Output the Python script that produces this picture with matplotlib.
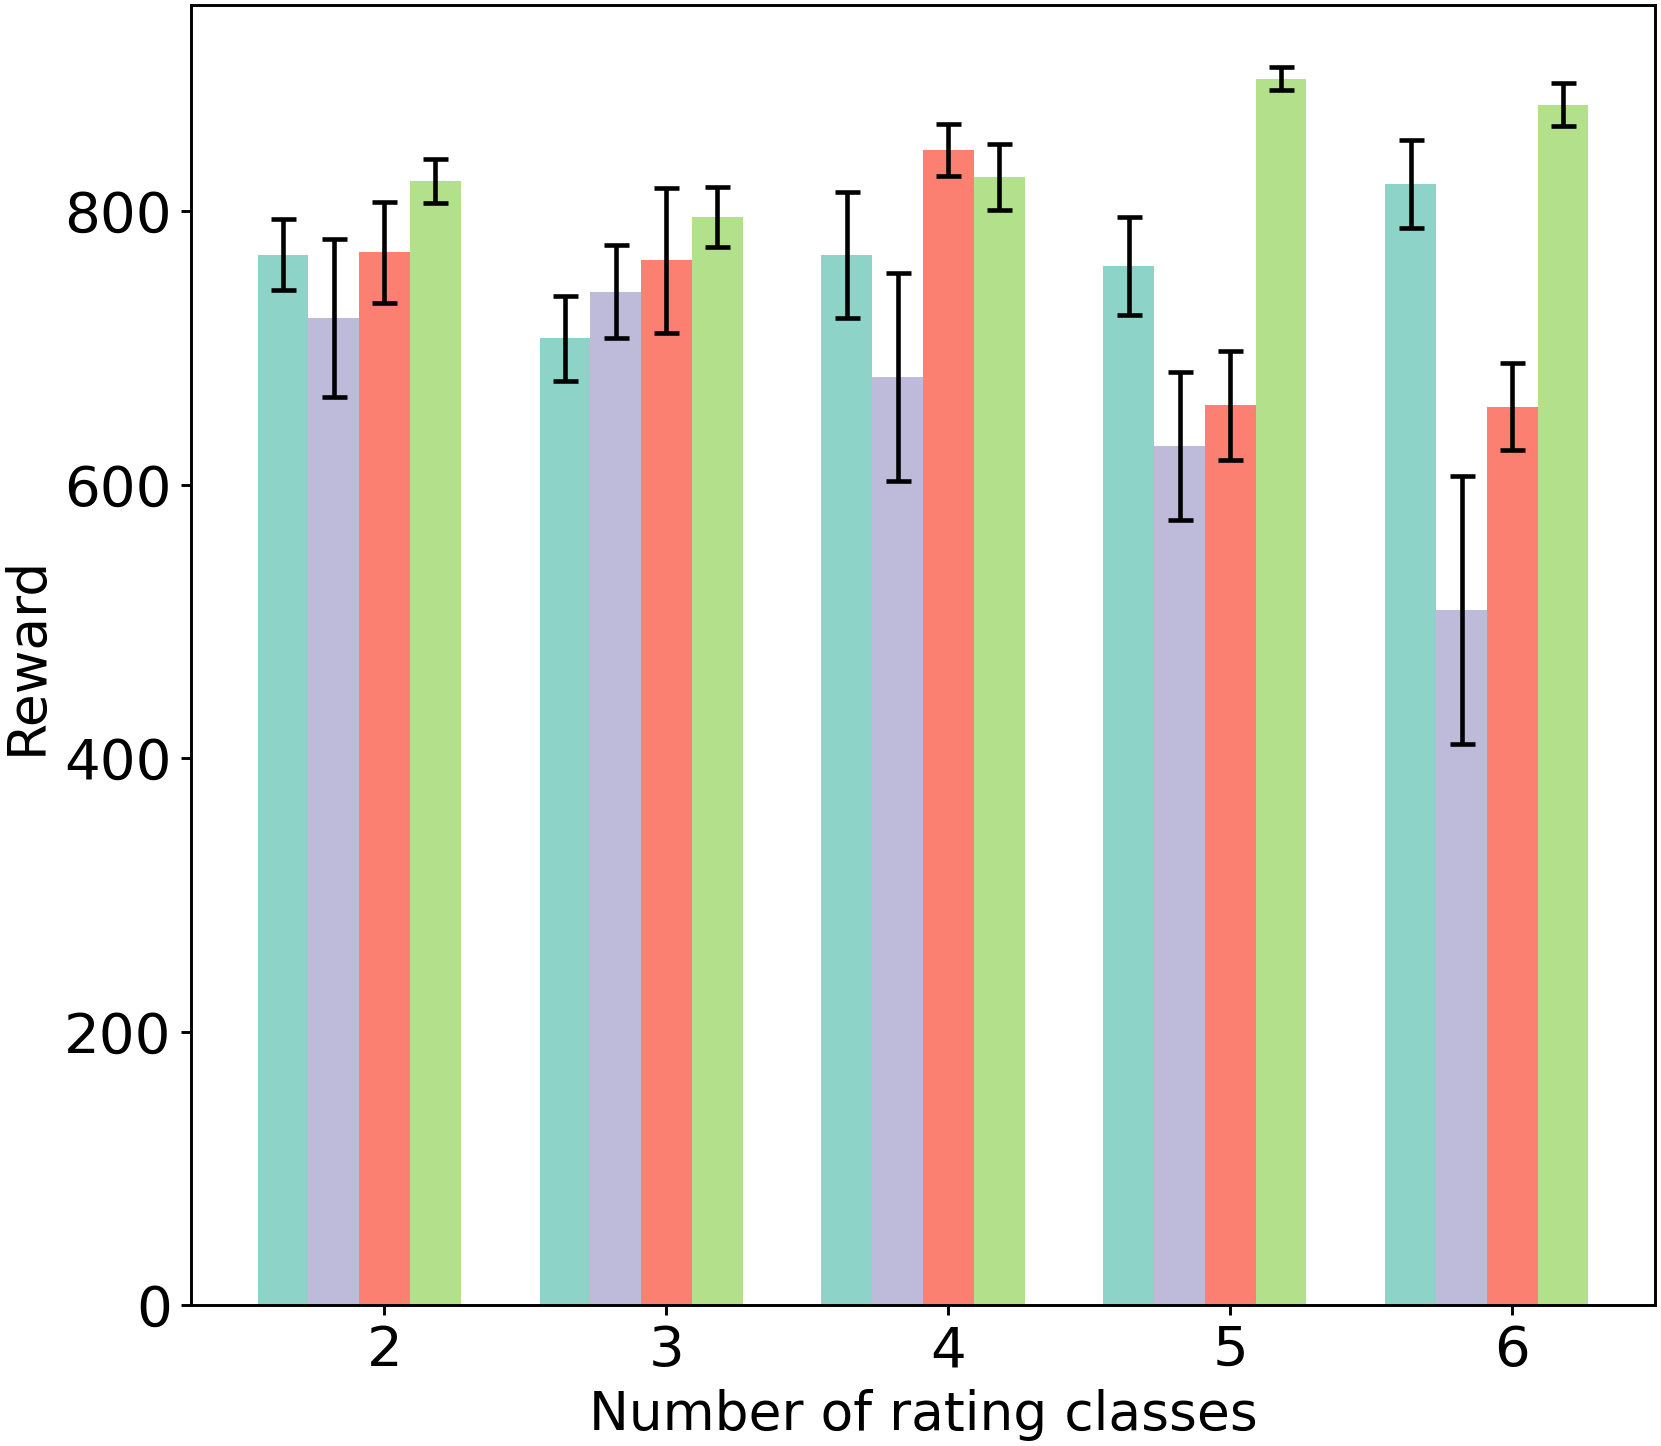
import matplotlib
matplotlib.use('Agg')
import matplotlib.pyplot as plt
import numpy as np

clases = [2, 3, 4, 5, 6]
# media y desviacion de cada serie, en orden de aparicion dentro de cada grupo
teal_media = [768, 707, 768, 760, 820]
teal_err = [26, 31, 46, 36, 32]
morado_media = [722, 741, 679, 628, 508]
morado_err = [58, 34, 76, 54, 98]
rojo_media = [770, 764, 845, 658, 657]
rojo_err = [37, 53, 19, 40, 32]
verde_media = [822, 796, 825, 897, 878]
verde_err = [16, 22, 24, 8.5, 16]

series = [teal_media, morado_media, rojo_media, verde_media]
errores = [teal_err, morado_err, rojo_err, verde_err]
colores = ['#8dd3c7', '#bebada', '#fb8072', '#b3e08a']

fig = plt.figure(figsize=(1661 / 300, 1446 / 300), dpi=300)
ax = fig.add_axes([191 / 1661, 1 - 1305 / 1446, 1464 / 1661, 1300 / 1446])

x = np.array(clases)
w = 0.18
for i in range(len(series)):
    ax.bar(x + (i - 2) * w, series[i], w, yerr=errores[i], color=colores[i],
           error_kw=dict(elinewidth=1.1, capsize=3, capthick=1.1, ecolor='black'))

ax.set_xticks(clases)
ax.set_yticks([0, 200, 400, 600, 800])
ax.tick_params(labelsize=13.5, length=2.4, width=0.7, pad=2.2)
for s in ax.spines.values():
    s.set_linewidth(0.7)
ax.set_xlabel('Number of rating classes', fontsize=12.8)
ax.set_ylabel('Reward', fontsize=12.8)
ax.xaxis.set_label_coords(0.5, -0.0646)
ax.yaxis.set_label_coords(-0.0946, 0.5)
fig.savefig('out.png', dpi=300)
